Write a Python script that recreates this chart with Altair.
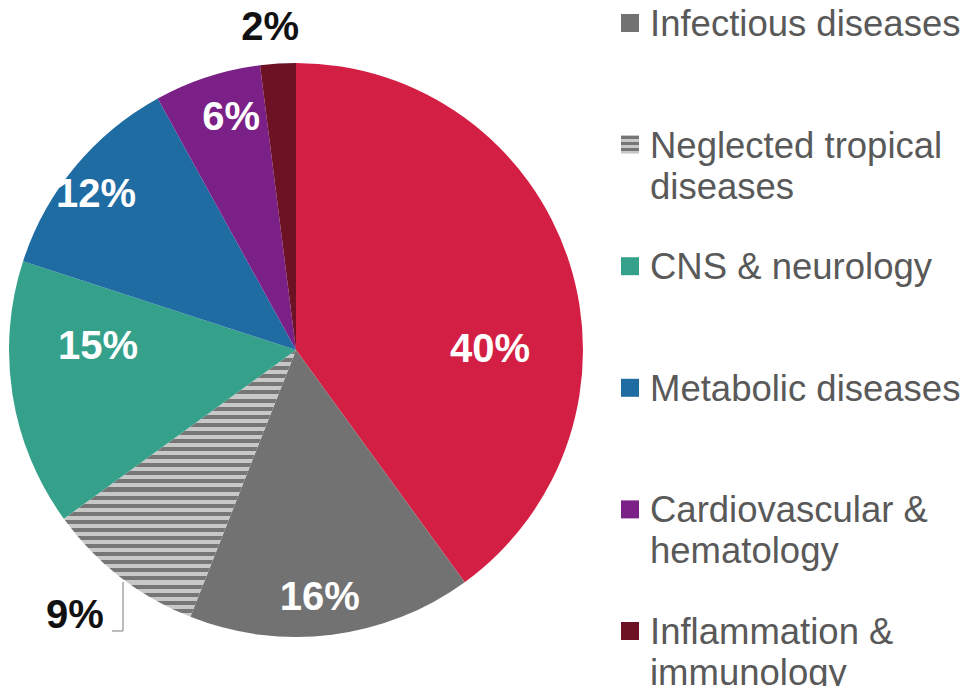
import altair as alt
import pandas as pd

# ---- data ----
categories = ["Oncology", "Infectious diseases", "Neglected tropical diseases",
              "CNS & neurology", "Metabolic diseases",
              "Cardiovascular & hematology", "Inflammation & immunology"]
shares = [40, 16, 9, 15, 12, 6, 2]
pct_labels = ["40%", "16%", "9%", "15%", "12%", "6%", "2%"]
legend_categories = categories[1:]
legend_texts = ["Infectious diseases", "Neglected tropical\ndiseases", "CNS & neurology",
                "Metabolic diseases", "Cardiovascular &\nhematology", "Inflammation &\nimmunology"]

# ---- styles / layout ----
colors = ["#D41F44", "#727272", "#9E9E9E", "#36A18B", "#1F6CA3", "#7B2086", "#6D1225"]
# label distance from the centre (px) and angular nudge from the slice middle (deg)
label_radius = {"Oncology": 194, "Infectious diseases": 249, "Neglected tropical diseases": 346,
                "CNS & neurology": 198, "Metabolic diseases": 253,
                "Cardiovascular & hematology": 241, "Inflammation & immunology": 323}
label_nudge = {"Oncology": 18, "Infectious diseases": 1.7, "Neglected tropical diseases": 1.9,
               "CNS & neurology": 10, "Metabolic diseases": -1.8,
               "Cardiovascular & hematology": 2.4, "Inflammation & immunology": -1}
outside = {"Neglected tropical diseases", "Inflammation & immunology"}
CX, CY, R = 288, 342, 287
W, H = 952, 678
DARK, LIGHT = "#767676", "#C8C8C8"


def stripes(n):
    stops = []
    p = 1.0 / n
    for k in range(n):
        a = k * p
        stops += [{"offset": a, "color": DARK}, {"offset": a + p / 2, "color": DARK},
                  {"offset": a + p / 2, "color": LIGHT}, {"offset": min(a + p, 1.0), "color": LIGHT}]
    return {"gradient": "linear", "x1": 0, "y1": 0, "x2": 0, "y2": 1, "stops": stops}


wedge_grad = stripes(33)
square_grad = stripes(3)

df = pd.DataFrame({
    "category": categories,
    "share": shares,
    "label": pct_labels,
    "idx": list(range(len(categories))),
})
df["lr"] = df["category"].map(label_radius)
df["tn"] = df["category"].map(label_nudge) * 3.141592653589793 / 180
df["out"] = df["category"].isin(outside)

leg = pd.DataFrame({"category": legend_categories, "text": legend_texts})

color_scale = alt.Scale(domain=categories, range=colors)
is_ntd = alt.datum.category == "Neglected tropical diseases"

base = alt.Chart(df)

pie = base.mark_arc(outerRadius=R).encode(
    theta=alt.Theta("share:Q", stack=True),
    order=alt.Order("idx:Q"),
    color=alt.condition(is_ntd, alt.value(wedge_grad),
                        alt.Color("category:N", scale=color_scale, legend=None)),
    x=alt.value(CX), y=alt.value(CY),
)

labels = base.mark_text(font="Liberation Sans", fontSize=40, fontWeight="bold",
                        align="center", baseline="middle",
                        radius=alt.expr("datum.lr"),
                        thetaOffset=alt.expr("datum.tn")).encode(
    theta=alt.Theta("share:Q", stack=True),
    order=alt.Order("idx:Q"),
    text="label:N",
    color=alt.condition(alt.datum.out, alt.value("#111111"), alt.value("white")),
    x=alt.value(CX), y=alt.value(CY),
)

one = alt.Chart(pd.DataFrame({"k": [0]}))
lead_v = one.mark_rule(color="#A6A6A6", strokeWidth=1.5).encode(
    x=alt.value(115), y=alt.value(574), y2=alt.value(623))
lead_h = one.mark_rule(color="#A6A6A6", strokeWidth=1.5).encode(
    x=alt.value(104), x2=alt.value(115), y=alt.value(623))

yscale = alt.Scale(type="point", domain=legend_categories, range=[15, 623], padding=0)
leg_base = alt.Chart(leg)
leg_sq = leg_base.mark_square(size=18 * 18, opacity=1).encode(
    x=alt.value(622),
    y=alt.Y("category:N", scale=yscale, axis=None),
    color=alt.condition(is_ntd, alt.value(square_grad),
                        alt.Color("category:N", scale=color_scale, legend=None)),
)
leg_txt = leg_base.mark_text(font="Liberation Sans", fontSize=36.5, color="#595959",
                             align="left", baseline="alphabetic", dy=13,
                             lineBreak="\n", lineHeight=41).encode(
    x=alt.value(642),
    y=alt.Y("category:N", scale=yscale, axis=None),
    text="text:N",
)

chart = alt.layer(pie, labels, lead_v, lead_h, leg_sq, leg_txt).properties(
    width=W, height=H, autosize=alt.AutoSizeParams(type="none"), padding=0,
    background="white",
).configure_view(stroke=None)

chart.save("out.html", embed_options={"renderer": "svg", "actions": False})
